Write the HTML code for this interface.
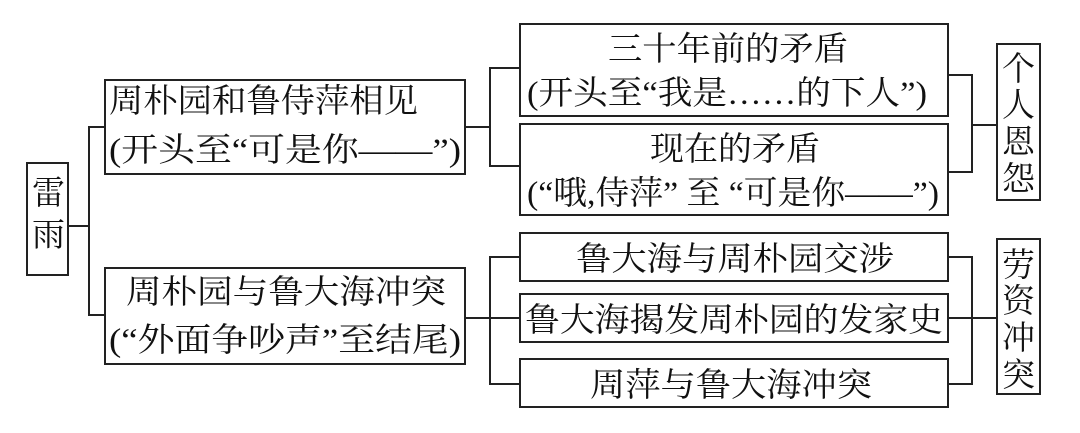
<!DOCTYPE html>
<html><head><meta charset="utf-8"><style>
html,body{margin:0;padding:0;background:#fff;}
svg{display:block}
text{font-family:"Liberation Serif","Noto Serif CJK SC","Noto Sans CJK SC",serif;font-size:33px;fill:#111;}
</style></head><body>
<svg width="1080" height="433" viewBox="0 0 1080 433" xmlns="http://www.w3.org/2000/svg">
<g fill="none" stroke="#222" stroke-width="2">
<rect x="27" y="163" width="41" height="112"/>
<rect x="105" y="80" width="360" height="94"/>
<rect x="105" y="268" width="360" height="96"/>
<rect x="520" y="24" width="428" height="92"/>
<rect x="520" y="124" width="428" height="91"/>
<rect x="520" y="233" width="428" height="48"/>
<rect x="520" y="294" width="428" height="48"/>
<rect x="520" y="359" width="428" height="48"/>
<rect x="997" y="44" width="43" height="156"/>
<rect x="997" y="239" width="43" height="155"/>
<polyline points="68,226 89,226"/>
<polyline points="105,127 89,127 89,315 105,315"/>
<polyline points="465,127 490,127"/>
<polyline points="520,68 490,68 490,166 520,166"/>
<polyline points="465,318 520,318"/>
<polyline points="520,257 490,257 490,384 520,384"/>
<polyline points="948,75 972,75 972,172 948,172"/>
<polyline points="972,125 997,125"/>
<polyline points="948,257 972,257 972,384 948,384"/>
<polyline points="948,318 997,318"/>
</g>
<text x="32" y="204" font-size="33">雷</text>
<text x="32" y="246" font-size="33">雨</text>
<text x="109" y="112" textLength="309" lengthAdjust="spacingAndGlyphs">周朴园和鲁侍萍相见</text>
<text x="109" y="161" textLength="352" lengthAdjust="spacingAndGlyphs">(开头至“可是你——”)</text>
<text x="126" y="303" textLength="320" lengthAdjust="spacingAndGlyphs">周朴园与鲁大海冲突</text>
<text x="109" y="351" textLength="352" lengthAdjust="spacingAndGlyphs">(“外面争吵声”至结尾)</text>
<text x="608" y="60" textLength="240" lengthAdjust="spacingAndGlyphs">三十年前的矛盾</text>
<text x="527" y="104" textLength="400" lengthAdjust="spacingAndGlyphs">(开头至“我是……的下人”)</text>
<text x="650" y="160" textLength="170" lengthAdjust="spacingAndGlyphs">现在的矛盾</text>
<text x="527" y="204" textLength="412" lengthAdjust="spacingAndGlyphs">(“哦,侍萍” 至 “可是你——”)</text>
<text x="576" y="270" textLength="318" lengthAdjust="spacingAndGlyphs">鲁大海与周朴园交涉</text>
<text x="525" y="331" textLength="418" lengthAdjust="spacingAndGlyphs">鲁大海揭发周朴园的发家史</text>
<text x="590" y="396" textLength="282" lengthAdjust="spacingAndGlyphs">周萍与鲁大海冲突</text>
<text x="1002" y="80">个</text>
<text x="1002" y="116">人</text>
<text x="1002" y="153">恩</text>
<text x="1002" y="190">怨</text>
<text x="1002" y="276">劳</text>
<text x="1002" y="312">资</text>
<text x="1002" y="349">冲</text>
<text x="1002" y="386">突</text>
</svg>
</body></html>
